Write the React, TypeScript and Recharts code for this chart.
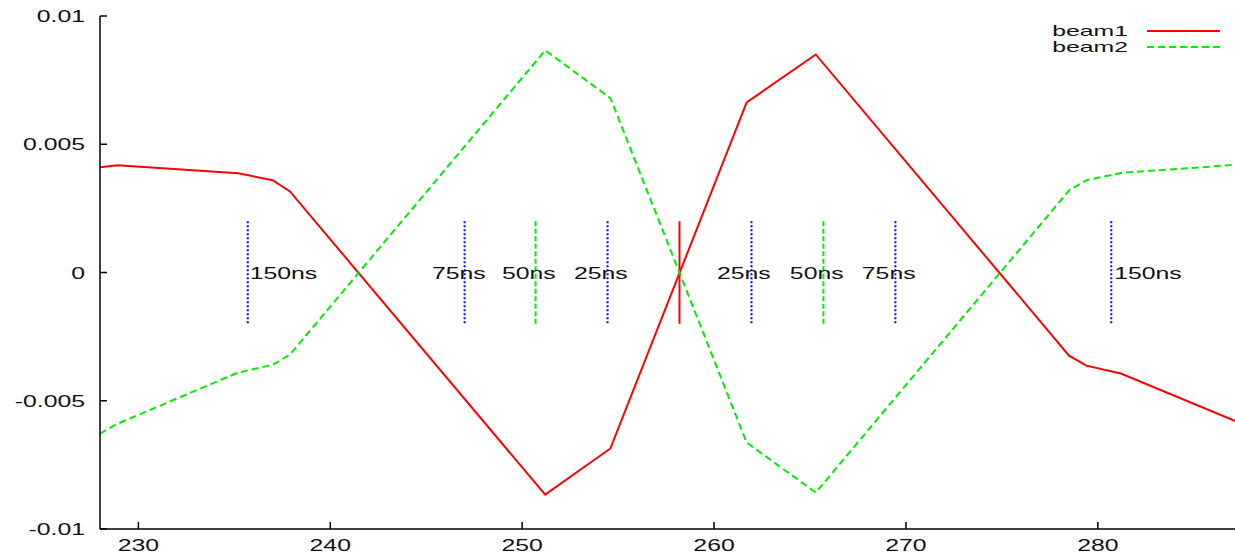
import { LineChart, Line, XAxis, YAxis, ReferenceLine, ReferenceDot, Legend } from "recharts";

// sample positions (x axis) shared by both beams
const positions = [228.0, 228.9, 235.2, 237.0, 237.9, 251.2, 254.6, 261.7, 265.3, 278.5, 279.4, 281.2, 287.2];
const beam1 = [0.0041, 0.00418, 0.00387, 0.0036, 0.00316, -0.00866, -0.00686, 0.00663, 0.0085, -0.00324, -0.00363, -0.00394, -0.0058];
const beam2 = [-0.00628, -0.0059, -0.0039, -0.0036, -0.0032, 0.00866, 0.0068, -0.00663, -0.00858, 0.0032, 0.0036, 0.00388, 0.0042];

const xTicks = [230, 240, 250, 260, 270, 280];
const yTicks = [-0.01, -0.005, 0, 0.005, 0.01];

// timing markers
const markerX = [235.7, 247.0, 250.7, 254.45, 258.2, 261.95, 265.7, 269.45, 280.7];
const markerKind = ["dot", "dot", "dash", "dot", "solid", "dot", "dash", "dot", "dot"];
const markerTop = 0.002;
const markerBottom = -0.002;
const labelX = [235.8, 245.3, 248.95, 252.7, 260.15, 263.95, 267.7, 280.85];
const labelText = ["150ns", "75ns", "50ns", "25ns", "25ns", "50ns", "75ns", "150ns"];

const FONT = "'Liberation Sans', Arial, Helvetica, sans-serif";
const STRETCH = 1.55;

const data = positions.map((x, i) => ({ x, beam1: beam1[i], beam2: beam2[i] }));

const markerStyle: Record<string, { stroke: string; dash?: string }> = {
  dot: { stroke: "#0000ff", dash: "2 2" },
  dash: { stroke: "#00ee00", dash: "5 2.5" },
  solid: { stroke: "#ff0000" },
};

function Stretched({ x, y, anchor, children, size = 16, sx = STRETCH }: any) {
  return (
    <g transform={`translate(${x},${y}) scale(${sx},1)`}>
      <text x={0} y={0} textAnchor={anchor} fontSize={size} fontFamily={FONT} fill="#111">
        {children}
      </text>
    </g>
  );
}

function BottomTick({ x, y, payload }: any) {
  return (
    <g>
      <line x1={x} y1={y} x2={x} y2={y - 7} stroke="#000" strokeWidth={1.5} />
      <Stretched x={x} y={y + 22} anchor="middle">
        {payload.value}
      </Stretched>
    </g>
  );
}

function TopTick({ x, y }: any) {
  return <line x1={x} y1={y} x2={x} y2={y + 7} stroke="#000" strokeWidth={1.5} />;
}

function LeftTick({ x, y, payload }: any) {
  return (
    <g>
      <line x1={x} y1={y} x2={x + 7} y2={y} stroke="#000" strokeWidth={1.5} />
      <Stretched x={x - 15} y={y + 6} anchor="end">
        {String(payload.value)}
      </Stretched>
    </g>
  );
}

function LegendBox() {
  return (
    <svg width={190} height={40} style={{ display: "block" }}>
      <Stretched x={88} y={16} anchor="end" size={14} sx={1.77}>beam1</Stretched>
      <line x1={107} y1={11} x2={180} y2={11} stroke="#ff0000" strokeWidth={2} />
      <Stretched x={88} y={32} anchor="end" size={14} sx={1.77}>beam2</Stretched>
      <line x1={107} y1={27} x2={180} y2={27} stroke="#00ee00" strokeWidth={2} strokeDasharray="7 4" />
    </svg>
  );
}

export default function App() {
  return (
    <div
      style={{
        position: "absolute",
        left: 0,
        top: 0,
        width: 1235,
        height: 556,
        overflow: "hidden",
        background: "#fff",
        fontFamily: FONT,
      }}
    >
      <LineChart width={1240} height={556} data={data} margin={{ top: 16, right: 4, bottom: 0, left: 10 }}>
        <XAxis
          dataKey="x"
          type="number"
          domain={[228, 287.2]}
          allowDataOverflow
          ticks={xTicks}
          height={27}
          tickSize={0}
          tickMargin={0}
          tickLine={false}
          tick={<BottomTick />}
          axisLine={{ stroke: "#000", strokeWidth: 1.5 }}
        />
        <XAxis
          xAxisId="top"
          orientation="top"
          dataKey="x"
          type="number"
          domain={[228, 287.2]}
          allowDataOverflow
          ticks={xTicks}
          height={0}
          tickSize={0}
          tickMargin={0}
          tickLine={false}
          tick={<TopTick />}
          axisLine={{ stroke: "#000", strokeWidth: 1.5 }}
        />
        <YAxis
          type="number"
          domain={[-0.01, 0.01]}
          ticks={yTicks}
          width={90}
          tickSize={0}
          tickMargin={0}
          tickLine={false}
          tick={<LeftTick />}
          axisLine={{ stroke: "#000", strokeWidth: 1.5 }}
        />
        <Legend
          layout="horizontal"
          verticalAlign="middle"
          align="center"
          wrapperStyle={{ top: 20, left: 1040, width: 190, height: 40 }}
          content={() => <LegendBox />}
        />
        {markerX.map((mx, i) => {
          const s = markerStyle[markerKind[i]];
          return (
            <ReferenceLine
              key={"m" + i}
              segment={[
                { x: mx, y: markerTop },
                { x: mx, y: markerBottom },
              ]}
              stroke={s.stroke}
              strokeDasharray={s.dash}
              strokeWidth={2}
            />
          );
        })}
        {labelX.map((lx, i) => (
          <ReferenceDot
            key={"l" + i}
            x={lx}
            y={0}
            r={0}
            shape={(p: any) => (
              <Stretched x={p.cx} y={p.cy + 6} anchor="start">
                {labelText[i]}
              </Stretched>
            )}
          />
        ))}
        <Line
          type="linear"
          dataKey="beam1"
          stroke="#ff0000"
          strokeWidth={2}
          dot={false}
          activeDot={false}
          isAnimationActive={false}
        />
        <Line
          type="linear"
          dataKey="beam2"
          stroke="#00ee00"
          strokeWidth={2}
          strokeDasharray="7 4"
          dot={false}
          activeDot={false}
          isAnimationActive={false}
        />
      </LineChart>
    </div>
  );
}
